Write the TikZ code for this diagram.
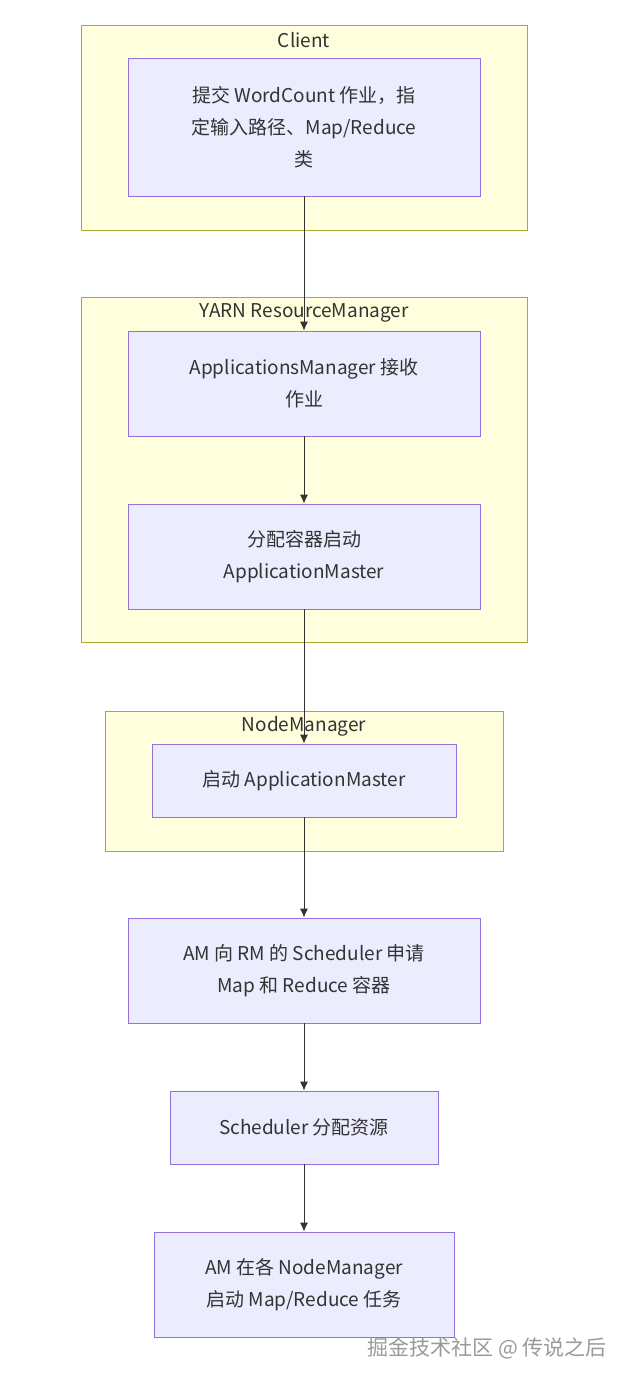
\documentclass[tikz,border=0pt]{standalone}
\usepackage{fontspec}
\setmainfont{Noto Sans CJK SC}
\usetikzlibrary{arrows.meta}
\definecolor{cf}{HTML}{FFFFDE}\definecolor{cs}{HTML}{AAAA33}
\definecolor{nf}{HTML}{ECECFF}\definecolor{ns}{HTML}{9370DB}
\definecolor{ar}{HTML}{333333}
\begin{document}
\begin{tikzpicture}[x=1pt,y=-1pt,font=\fontsize{19}{32}\selectfont,
 clus/.style={fill=cf,draw=cs,line width=0.8pt},
 box/.style={fill=nf,draw=ns,line width=0.8pt},
 txt/.style={align=center,text=ar,inner sep=0pt},
 arr/.style={draw=ar,line width=1pt,-{Latex[length=9pt,width=8pt]}}]
\useasboundingbox (0,0) rectangle (630,1382);
\draw[clus] (81,25) rectangle (527,230);
\node[txt] (t1) at (304,40) {Client};
\draw[clus] (81,297) rectangle (527,642);
\node[txt] (t2) at (304,313) {YARN ResourceManager};
\draw[clus] (105,711) rectangle (503,851);
\node[txt] (t3) at (304,726) {NodeManager};
\node[box,minimum width=352,minimum height=138] (a) at (304,127) {};
\node[txt] at (a) {提交 WordCount 作业，指\\定输入路径、Map/Reduce\\类};
\node[box,minimum width=352,minimum height=105] (b) at (304,383.5) {};
\node[txt] at (b) {ApplicationsManager 接收\\作业};
\node[box,minimum width=352,minimum height=105] (c) at (304,556.5) {};
\node[txt] at (c) {分配容器启动\\ApplicationMaster};
\node[box,minimum width=304,minimum height=73] (d) at (304,780.5) {};
\node[txt] at (d) {启动 ApplicationMaster};
\node[box,minimum width=352,minimum height=105] (e) at (304,970.5) {};
\node[txt] at (e) {AM 向 RM 的 Scheduler 申请\\Map 和 Reduce 容器};
\node[box,minimum width=268,minimum height=73] (f) at (304,1127.5) {};
\node[txt] at (f) {Scheduler 分配资源};
\node[box,minimum width=300,minimum height=105] (g) at (304,1284.5) {};
\node[txt] at (g) {AM 在各 NodeManager\\启动 Map/Reduce 任务};
\draw[arr] (a.south) -- (b.north);
\draw[arr] (b.south) -- (c.north);
\draw[arr] (c.south) -- (d.north);
\draw[arr] (d.south) -- (e.north);
\draw[arr] (e.south) -- (f.north);
\draw[arr] (f.south) -- (g.north);
\node[txt,text=gray!80,font=\fontsize{21}{22}\selectfont] (wm) at (487,1348) {掘金技术社区 @ 传说之后};
\end{tikzpicture}
\end{document}
